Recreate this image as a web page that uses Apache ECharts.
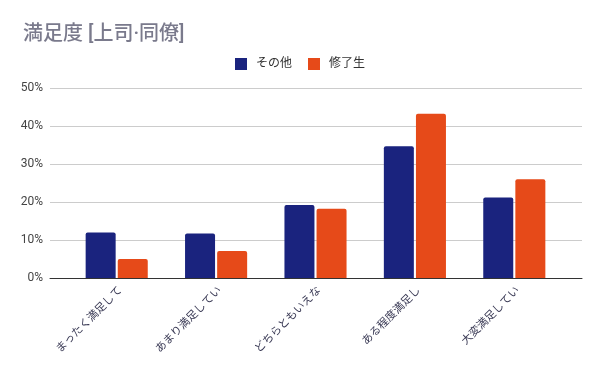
<!DOCTYPE html>
<html><head><meta charset="utf-8">
<script src="https://cdn.jsdelivr.net/npm/echarts@6/dist/echarts.min.js"></script>
<style>html,body{margin:0;padding:0;background:#fff}#c{width:600px;height:371px}</style>
</head><body><div id="c"></div>
<script>
const categories = ['まったく満足して', 'あまり満足してい', 'どちらともいえな', 'ある程度満足し', '大変満足してい'];
const seriesNames = ['その他', '修了生'];
const otherValues = [12.0, 11.7, 19.2, 34.7, 21.2];
const graduateValues = [5.0, 7.1, 18.2, 43.2, 26.0];
const yTicks = [0, 10, 20, 30, 40, 50];

const font = 'Roboto, "Noto Sans CJK JP", sans-serif';
const chart = echarts.init(document.getElementById('c'), null, {renderer: 'canvas'});
chart.setOption({
  animation: false,
  textStyle: {fontFamily: font},
  title: {
    text: '満足度 [上司·同僚]', left: 18, top: 20,
    textStyle: {fontSize: 20, fontWeight: 500, color: '#7a7a8c', fontFamily: font}
  },
  legend: {
    top: 53, left: 'center', itemWidth: 12, itemHeight: 12, itemGap: 16,
    icon: 'rect',
    textStyle: {fontSize: 12, color: '#333', fontFamily: font, padding: [0, 0, 0, 4]},
    data: seriesNames
  },
  grid: [
    {left: 50, right: 18, top: 88, bottom: 93, containLabel: false},
    {left: 67, right: 36, top: 88, bottom: 93, containLabel: false}
  ],
  xAxis: [
    {gridIndex: 0, type: 'category', data: categories, axisLabel: {show: false}, axisTick: {show: false},
     axisLine: {lineStyle: {color: '#333', width: 1}}},
    {gridIndex: 1, type: 'category', data: categories, axisTick: {show: false}, axisLine: {show: false},
     axisLabel: {rotate: 45, fontSize: 11, color: '#3a3a55', margin: 7, interval: 0, verticalAlign: 'top', fontFamily: font}}
  ],
  yAxis: [
    {gridIndex: 0, type: 'value', min: yTicks[0], max: yTicks[yTicks.length - 1], interval: 10,
     axisLabel: {formatter: v => v + '%', fontSize: 12, color: '#444', margin: 7, fontFamily: font},
     splitLine: {lineStyle: {color: '#cccccc'}}, axisLine: {show: false}, axisTick: {show: false}},
    {gridIndex: 1, type: 'value', min: yTicks[0], max: yTicks[yTicks.length - 1], interval: 10, show: false, splitLine: {show: false}}
  ],
  series: [
    {name: seriesNames[0], type: 'bar', xAxisIndex: 1, yAxisIndex: 1, data: otherValues,
     barWidth: 30, barGap: '7%', itemStyle: {color: '#1a237e', borderRadius: [2, 2, 0, 0]}},
    {name: seriesNames[1], type: 'bar', xAxisIndex: 1, yAxisIndex: 1, data: graduateValues,
     barWidth: 30, barGap: '7%', itemStyle: {color: '#e64a19', borderRadius: [2, 2, 0, 0]}}
  ]
});
</script></body></html>
